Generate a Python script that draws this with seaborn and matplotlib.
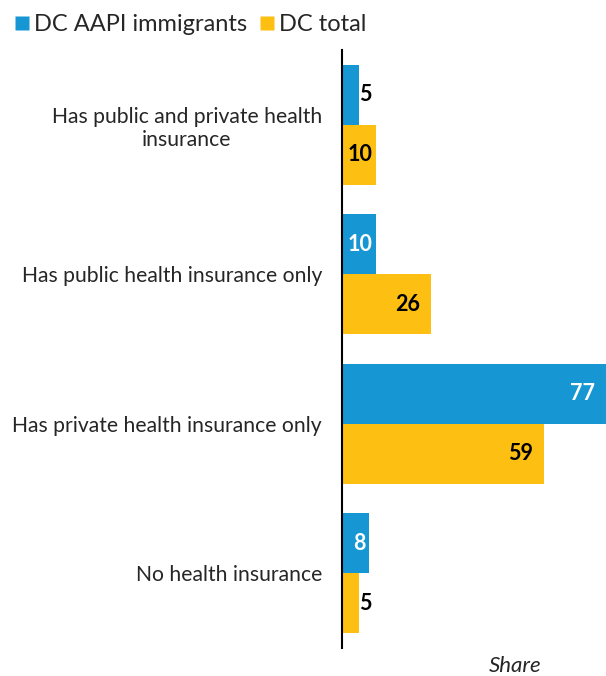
import matplotlib
matplotlib.use("Agg")
import matplotlib.pyplot as plt
import seaborn as sns
import pandas as pd
from matplotlib.lines import Line2D

categories = ["Has public and private health\ninsurance",
              "Has public health insurance only",
              "Has private health insurance only",
              "No health insurance"]
series_names = ["DC AAPI immigrants", "DC total"]
aapi = [5, 10, 77, 8]
dc_total = [10, 26, 59, 5]
colors = ["#1696d2", "#fdbf11"]

sns.set_style("white")
plt.rcParams['font.family'] = ['Lato', 'DejaVu Sans']

rows = []
for c, a, t in zip(categories, aapi, dc_total):
    rows.append({"cat": c, "series": series_names[0], "val": a})
    rows.append({"cat": c, "series": series_names[1], "val": t})
df = pd.DataFrame(rows)

fig = plt.figure(figsize=(6.06, 6.76), dpi=100)
ax = fig.add_axes([342/606, 28/676, 264/606, 598/676])
sns.barplot(data=df, y="cat", x="val", hue="series", order=categories,
            hue_order=series_names, palette=colors, width=0.8, orient="h",
            ax=ax, legend=False, saturation=1, edgecolor="none")

ax.set_xlim(0, 77)
ax.set_ylim(3.5, -0.5)
ax.set_xlabel("")
ax.set_ylabel("")
ax.set_xticks([])
ax.tick_params(axis="y", length=0, pad=14.4, labelsize=15.2)
for lbl in ax.get_yticklabels():
    lbl.set_multialignment("center")
for s in ["top", "right", "bottom"]:
    ax.spines[s].set_visible(False)
ax.spines["left"].set_color("black")
ax.spines["left"].set_linewidth(1.5)

for ci, container in enumerate(ax.containers):
    for bar, v in zip(container, [aapi, dc_total][ci]):
        y = bar.get_y() + bar.get_height() / 2
        if v <= 5:
            ax.annotate(f"{v}", (v, y), xytext=(0, 0), textcoords="offset points",
                        ha="left", va="center", fontsize=15.5, fontweight="bold",
                        color="black")
        else:
            pad = -3 if v <= 10 else -8
            col = "white" if ci == 0 else "black"
            ax.annotate(f"{v}", (v, y), xytext=(pad, 0), textcoords="offset points",
                        ha="right", va="center", fontsize=15.5, fontweight="bold",
                        color=col)

handles = [Line2D([0], [0], marker="s", linestyle="none", markersize=10,
                  markerfacecolor=c, markeredgecolor="none") for c in colors]
fig.legend(handles, series_names, loc="upper left", bbox_to_anchor=(0.0, 1.0),
           ncol=2, frameon=False, fontsize=17, handletextpad=0.15,
           columnspacing=0.5, handlelength=0.7, borderaxespad=0.2)

fig.text(515/606, 1 - 666/676, "Share", ha="center", va="center",
         fontsize=16, style="italic")

fig.savefig("out.png", dpi=100)
